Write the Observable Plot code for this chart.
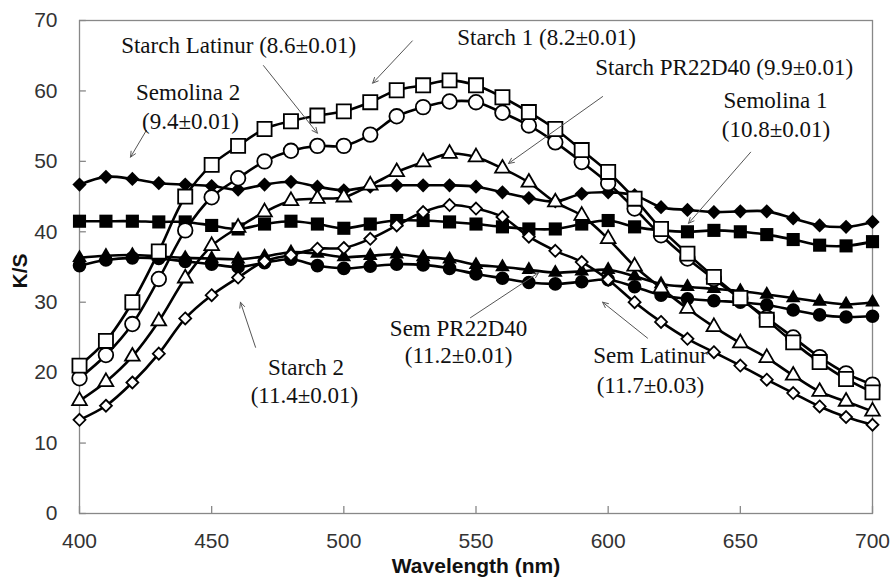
<!DOCTYPE html>
<html><head><meta charset="utf-8">
<script src="https://cdn.jsdelivr.net/npm/d3@7"></script>
<script src="https://cdn.jsdelivr.net/npm/@observablehq/plot@0.6"></script>
<style>body{margin:0;background:#fff} svg{display:block}</style>
</head><body><div id="chart"></div>
<script>
const wavelength = [400,410,420,430,440,450,460,470,480,490,500,510,520,530,540,550,560,570,580,590,600,610,620,630,640,650,660,670,680,690,700];
const semolina2 = [46.7,47.8,47.5,46.9,46.7,46.5,46.0,46.7,47.1,46.4,45.9,46.4,46.6,46.6,46.6,46.4,45.6,44.8,44.3,45.4,45.6,45.2,43.5,43.1,42.8,42.9,42.9,41.9,40.9,40.7,41.4];
const semolina1 = [41.5,41.5,41.5,41.4,41.4,40.9,40.4,41.1,41.5,41.1,40.5,41.1,41.6,41.6,41.4,41.1,40.7,40.4,40.4,41.1,41.6,40.7,40.2,40.0,40.2,40.0,39.6,38.9,38.1,38.0,38.6];
const semPR22D40 = [36.3,36.6,36.7,36.5,36.3,36.2,36.1,36.5,37.1,36.9,36.4,36.6,36.8,36.4,36.1,35.3,35.0,34.6,34.2,34.4,34.6,33.7,32.6,32.2,31.9,31.6,31.1,30.6,30.1,29.7,30.0];
const semLatinur = [35.2,36.0,36.3,36.2,35.8,35.4,35.0,35.6,36.1,35.2,34.8,35.1,35.4,35.3,34.8,34.0,33.4,32.8,32.6,32.9,33.2,32.2,31.0,30.5,30.2,30.0,29.6,28.9,28.2,27.9,28.0];
const starch2 = [13.3,15.3,18.6,22.7,27.7,31.0,33.5,35.8,36.7,37.6,37.7,39.0,40.9,42.8,43.8,43.3,42.1,39.3,37.3,35.7,33.2,30.0,27.2,24.8,22.9,21.0,19.0,17.1,15.2,13.7,12.6];
const starchPR22D40 = [16.0,18.7,22.3,27.3,33.4,38.0,40.6,42.8,44.4,44.7,44.9,46.6,48.5,49.9,51.1,50.6,49.0,47.0,44.2,42.3,39.0,35.1,32.0,29.1,26.5,24.2,22.1,19.6,17.3,15.9,14.5];
const starchLatinur = [19.2,22.5,26.9,33.3,40.2,44.9,47.6,50.0,51.5,52.2,52.2,53.8,56.4,57.7,58.5,58.4,56.9,55.1,52.7,49.9,46.9,43.3,39.5,36.2,33.3,30.5,27.8,25.0,22.2,19.9,18.3];
const starch1 = [21.0,24.5,30.0,37.2,45.0,49.5,52.2,54.6,55.7,56.5,57.1,58.4,60.1,60.8,61.5,60.8,59.1,57.0,54.6,51.6,48.5,44.7,40.4,36.9,33.6,30.6,27.5,24.3,21.5,19.1,17.2];

const xTicks = [400,450,500,550,600,650,700];
const yTicks = [0,10,20,30,40,50,60,70];

const seriesList = [
  {name: "Semolina 2", values: semolina2},
  {name: "Semolina 1", values: semolina1},
  {name: "Sem PR22D40", values: semPR22D40},
  {name: "Sem Latinur", values: semLatinur},
  {name: "Starch 2", values: starch2},
  {name: "Starch PR22D40", values: starchPR22D40},
  {name: "Starch Latinur", values: starchLatinur},
  {name: "Starch 1", values: starch1}
];
const markerStyle = {
  "Semolina 2": {symbol: "diamond2", fill: "black", r: 6.4, strokeWidth: 0},
  "Semolina 1": {symbol: "square", fill: "black", r: 7.4, strokeWidth: 0},
  "Sem PR22D40": {symbol: "triangle2", fill: "black", r: 7.0, strokeWidth: 0},
  "Sem Latinur": {symbol: "circle", fill: "black", r: 6.8, strokeWidth: 0},
  "Starch 2": {symbol: "diamond2", fill: "white", r: 5.4, strokeWidth: 1.8},
  "Starch PR22D40": {symbol: "triangle2", fill: "white", r: 7.0, strokeWidth: 1.8},
  "Starch Latinur": {symbol: "circle", fill: "white", r: 7.3, strokeWidth: 1.8},
  "Starch 1": {symbol: "square2", fill: "white", r: 9.0, strokeWidth: 1.8}
};

const labels = [
  {text: "Starch Latinur (8.6±0.01)", x: 460.2, y: 66.4},
  {text: "Semolina 2", x: 441.1, y: 59.7},
  {text: "(9.4±0.01)", x: 442.0, y: 55.7},
  {text: "Starch 1 (8.2±0.01)", x: 576.7, y: 67.5},
  {text: "Starch PR22D40 (9.9±0.01)", x: 643.9, y: 63.3},
  {text: "Semolina 1", x: 663.3, y: 58.6},
  {text: "(10.8±0.01)", x: 663.5, y: 54.5},
  {text: "Starch 2", x: 485.7, y: 20.7},
  {text: "(11.4±0.01)", x: 485.1, y: 16.7},
  {text: "Sem PR22D40", x: 543.4, y: 26.3},
  {text: "(11.2±0.01)", x: 543.4, y: 22.4},
  {text: "Sem Latinur", x: 616.0, y: 22.4},
  {text: "(11.7±0.03)", x: 616.0, y: 18.1}
];
const arrows = [
  {x1: 469.6, y1: 63.6, x2: 490.0, y2: 54.0},
  {x1: 425.3, y1: 54.4, x2: 419.3, y2: 50.6},
  {x1: 525.9, y1: 67.1, x2: 510.9, y2: 61.1},
  {x1: 597.9, y1: 59.2, x2: 562.3, y2: 49.7},
  {x1: 653.9, y1: 51.3, x2: 630.4, y2: 41.2},
  {x1: 466.6, y1: 23.6, x2: 460.9, y2: 30.0},
  {x1: 547.9, y1: 27.8, x2: 573.7, y2: 34.2},
  {x1: 614.9, y1: 24.9, x2: 597.9, y2: 30.0}
];

const seriesMarks = seriesList.flatMap(s => {
  const rows = wavelength.map((w, i) => ({wl: w, v: s.values[i]}));
  const st = markerStyle[s.name];
  return [
    Plot.line(rows, {x: "wl", y: "v", curve: "catmull-rom", stroke: "black", strokeWidth: 2.6}),
    Plot.dot(rows, {x: "wl", y: "v", symbol: () => st.symbol, r: st.r, fill: st.fill, stroke: "black", strokeWidth: st.strokeWidth})
  ];
});

const chart = Plot.plot({
  width: 892, height: 588,
  marginLeft: 79, marginRight: 20, marginTop: 20, marginBottom: 75,
  style: {background: "#fff", fontFamily: "'Liberation Sans', Arial, sans-serif"},
  x: {domain: [400, 700]},
  y: {domain: [0, 70]},
  symbol: {type: "identity"},
  marks: [
    Plot.frame({stroke: "#888", strokeWidth: 1.3}),
    Plot.ruleX(xTicks, {y1: 0, y2: 1, stroke: "#888", strokeWidth: 1.3}),
    Plot.ruleY(yTicks, {x1: 400, x2: 402.6, stroke: "#888", strokeWidth: 1.3}),
    Plot.axisX(xTicks, {tickSize: 0, tickPadding: 20, fontSize: 21, fill: "#333", label: null}),
    Plot.axisY(yTicks, {tickSize: 0, tickPadding: 22, fontSize: 21, fill: "#333", label: null}),
    Plot.text(["Wavelength (nm)"], {frameAnchor: "bottom", lineAnchor: "middle", textAnchor: "middle", dy: 53, fontWeight: "bold", fontSize: 21, fill: "#111"}),
    Plot.text(["K/S"], {frameAnchor: "left", lineAnchor: "middle", textAnchor: "middle", dx: -59, dy: 4, rotate: -90, fontWeight: "bold", fontSize: 21, fill: "#111"}),
    ...seriesMarks,
    Plot.arrow(arrows, {x1: "x1", y1: "y1", x2: "x2", y2: "y2", stroke: "#555", strokeWidth: 1, headLength: 9, headAngle: 50}),
    Plot.text(labels, {x: "x", y: "y", text: "text", fontFamily: "'Liberation Serif', 'Times New Roman', serif", fontSize: 23, fill: "#111"})
  ]
});
document.getElementById("chart").appendChild(chart);
</script>
</body></html>
